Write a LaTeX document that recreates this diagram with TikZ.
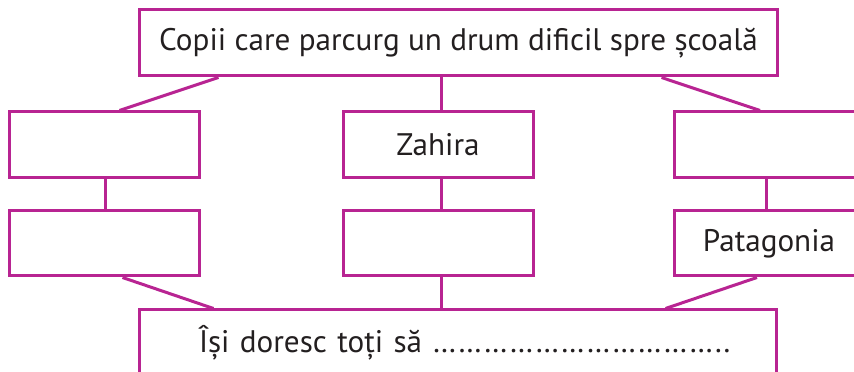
\documentclass[tikz,border=0pt]{standalone}
\usepackage{fontspec}
\setmainfont{PT Sans}
\usepackage{xcolor}
\usetikzlibrary{calc}
\definecolor{schemamagenta}{RGB}{184,36,146}
\definecolor{schematext}{RGB}{35,31,32}

\begin{document}
\begin{tikzpicture}[x=0.3mm, y=-0.3mm,
        caseta/.style={draw=schemamagenta, line width=0.9mm, fill=white, rectangle,
            minimum width=57mm, minimum height=19.8mm, inner sep=0pt,
            text=schematext, font=\fontsize{26.6}{30}\selectfont},
        legatura/.style={draw=schemamagenta, line width=0.9mm}]
        \useasboundingbox (0,0) rectangle (854,372);
        \clip (0,0) rectangle (854,372);
        \node[caseta, minimum width=191.1mm] (copii) at (458.5, 43) {Copii care parcurg un drum dificil spre școală};
        \node[caseta] (st1) at (104.5, 145) {};
        \node[caseta] (mij1) at (438, 145) {Zahira};
        \node[caseta] (dr1) at (769, 145) {};
        \node[caseta, minimum height=19.5mm] (st2) at (104.5, 243.5) {};
        \node[caseta, minimum height=19.5mm] (mij2) at (438, 243.5) {};
        \node[caseta, minimum height=19.5mm] (dr2) at (769, 243.5) {Patagonia};
        \node[caseta, minimum width=190.8mm, text width=155.4mm, inner xsep=17.7mm, align=left] (dorinta) at (458, 343)
            {\mbox{Își doresc toți să ……………………………..}};
        \draw[legatura] ($(copii.south west)+(80,0)$) -- ($(st1.north)+(15,0)$);
        \draw[legatura] (copii.south -| 441,0) -- (mij1.north -| 441,0);
        \draw[legatura] ($(copii.south east)+(-117,0)$) -- ($(dr1.north)+(-9,0)$);
        \draw[legatura] (st1.south -| 105,0) -- (st2.north -| 105,0);
        \draw[legatura] (mij1.south -| 441,0) -- (mij2.north -| 441,0);
        \draw[legatura] (dr1.south -| 766,0) -- (dr2.north -| 766,0);
        \draw[legatura] ($(st2.south)+(18,0)$) -- ($(dorinta.north west)+(75,0)$);
        \draw[legatura] (mij2.south -| 441,0) -- (dorinta.north -| 441,0);
        \draw[legatura] ($(dr2.south)+(-12,0)$) -- ($(dorinta.north east)+(-112,0)$);
\end{tikzpicture}
\end{document}
